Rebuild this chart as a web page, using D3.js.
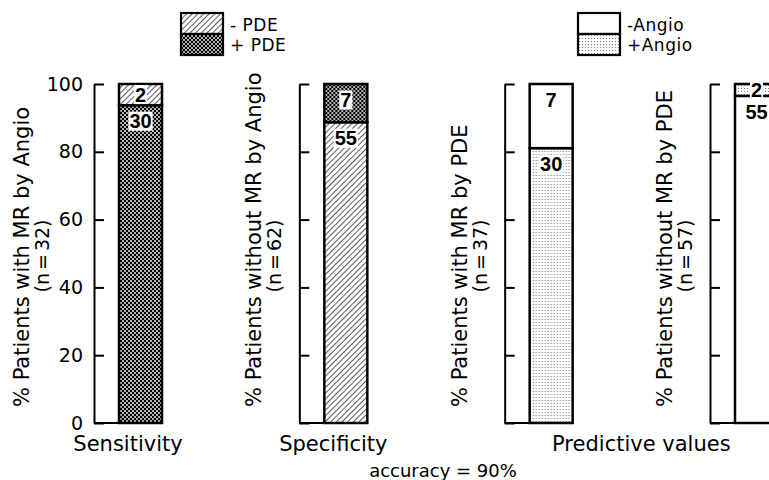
<!DOCTYPE html>
<meta charset="utf-8">
<style>
body { margin:0; background:#fff; }
text { font-family: "DejaVu Sans", sans-serif; fill:#000; }
.axis path, .axis line { stroke:#000; stroke-width:2px; }
.axis text { font-size:19px; }
.count { font-family: "Liberation Sans", Arial, sans-serif; font-weight:bold; font-size:20px; }
</style>
<body>
<svg width="769" height="480" id="vis"></svg>
</body>
<script src="https://d3js.org/d3.v7.min.js"></script>
<script>
// one panel per stacked bar
var panels = ["Sensitivity", "Specificity", "PPV", "NPV"];
var axisTitles = ["% Patients with MR by Angio", "% Patients without MR by Angio",
                  "% Patients with MR by PDE", "% Patients without MR by PDE"];
var nLabels = ["(n = 32)", "(n = 62)", "(n = 37)", "(n = 57)"];
var lowerCats = ["+PDE", "-PDE", "+Angio", "-Angio"];
var lowerCounts = [30, 55, 30, 55];
var upperCats = ["-PDE", "+PDE", "-Angio", "+Angio"];
var upperCounts = [2, 7, 7, 2];
var yTicks = [0, 20, 40, 60, 80, 100];
var groupLabels = ["Sensitivity", "Specificity", "Predictive values"];
var groupPanels = [[0], [1], [2, 3]];
var legendPDE = ["- PDE", "+ PDE"], legendPDECats = ["-PDE", "+PDE"];
var legendAngio = ["-Angio", "+Angio"], legendAngioCats = ["-Angio", "+Angio"];
var accuracy = "accuracy = 90%";

var svg = d3.select("svg");
var fills = {"-PDE":"url(#hatch)", "+PDE":"url(#darkdots)", "-Angio":"#fff", "+Angio":"url(#lightdots)"};

var defs = svg.append("defs");
var hatch = defs.append("pattern").attr("id","hatch").attr("patternUnits","userSpaceOnUse")
    .attr("width",4).attr("height",4).attr("patternTransform","rotate(45)");
hatch.append("rect").attr("width",4).attr("height",4).attr("fill","#fff");
hatch.append("line").attr("x1",0).attr("y1",0).attr("x2",0).attr("y2",4)
    .attr("stroke","#000").attr("stroke-width",1.3);

var dark = defs.append("pattern").attr("id","darkdots").attr("patternUnits","userSpaceOnUse")
    .attr("width",4).attr("height",4);
dark.append("rect").attr("width",4).attr("height",4).attr("fill","#000");
dark.selectAll("circle").data([[1,1],[3,3]]).enter().append("circle")
    .attr("cx",function(d){return d[0]}).attr("cy",function(d){return d[1]})
    .attr("r",0.95).attr("fill","#fff");

var light = defs.append("pattern").attr("id","lightdots").attr("patternUnits","userSpaceOnUse")
    .attr("width",3).attr("height",3);
light.append("rect").attr("width",3).attr("height",3).attr("fill","#fff");
light.append("circle").attr("cx",1.5).attr("cy",1.5).attr("r",0.6).attr("fill","#666");

var y = d3.scaleLinear().domain([0, 100]).range([423, 84]);
var px = d3.scaleLinear().domain([0, 3]).range([94, 710]);
var barGap = 25, barW = 43;

panels.forEach(function(name, i) {
    var ax = px(i);
    var g = svg.append("g").attr("transform", "translate(" + ax + ",0)");
    var total = lowerCounts[i] + upperCounts[i];
    var lowPct = lowerCounts[i] / total * 100;

    var axis = d3.axisLeft(y).tickValues(yTicks).tickSizeInner(-10).tickSizeOuter(0).tickPadding(11);
    if (i > 0) axis.tickFormat("");
    g.append("g").attr("class","axis").call(axis);

    // baseline
    g.append("line").attr("x1",0).attr("x2",barGap + barW).attr("y1",y(0)).attr("y2",y(0))
        .attr("stroke","#000").attr("stroke-width",2);

    var segs = [
        {cat: lowerCats[i], n: lowerCounts[i], y0: 0, y1: lowPct},
        {cat: upperCats[i], n: upperCounts[i], y0: lowPct, y1: 100}
    ];
    g.selectAll("rect.seg").data(segs).enter().append("rect")
        .attr("class","seg")
        .attr("x", barGap).attr("width", barW)
        .attr("y", function(d){return y(d.y1)})
        .attr("height", function(d){return y(d.y0) - y(d.y1)})
        .attr("fill", function(d){return fills[d.cat]})
        .attr("stroke","#000").attr("stroke-width",2.5);

    segs.forEach(function(d) {
        var top = y(d.y1), h = y(d.y0) - y(d.y1);
        var cy = top + Math.min(h / 2, 16);
        var bg = g.append("rect").attr("fill","#fff");
        var t = g.append("text").attr("class","count")
            .attr("x", barGap + barW / 2).attr("y", cy).attr("dy","0.36em")
            .attr("text-anchor","middle").text(d.n);
        var bb = t.node().getBBox();
        bg.attr("x", bb.x - 1).attr("y", cy - 9.5).attr("width", bb.width + 2).attr("height", 19);
    });

    var off = i == 0 ? 27 : 0;
    g.append("text").attr("transform","translate(" + (-38 - off) + ",407) rotate(-90)")
        .style("font-size","21px").text(axisTitles[i]);
    g.append("text").attr("transform","translate(" + (-18 - off) + ",256) rotate(-90)")
        .attr("text-anchor","middle").style("font-size","19px").style("word-spacing","-3px")
        .text(nLabels[i]);
});

groupLabels.forEach(function(lab, k) {
    var ps = groupPanels[k];
    var left = px(ps[0]), right = px(ps[ps.length - 1]) + barGap + barW;
    svg.append("text").attr("x", (left + right) / 2).attr("y", 451)
        .attr("text-anchor","middle").style("font-size","21px").text(lab);
});

svg.append("text").attr("x", 443).attr("y", 477).attr("text-anchor","middle")
    .style("font-size","18px").text(accuracy);

function legend(x0, labels, cats) {
    var lg = svg.append("g").attr("transform","translate(" + x0 + ",13)");
    lg.selectAll("rect").data(cats).enter().append("rect")
        .attr("x",0).attr("y",function(d,j){return j * 21})
        .attr("width",42).attr("height",21)
        .attr("fill",function(d){return fills[d]})
        .attr("stroke","#000").attr("stroke-width",2.2);
    lg.selectAll("text").data(labels).enter().append("text")
        .attr("x",49).attr("y",function(d,j){return 18 + j * 20})
        .style("font-size","17px").style("letter-spacing","0.5px").text(function(d){return d});
}
legend(181, legendPDE, legendPDECats);
legend(578, legendAngio, legendAngioCats);
</script>
